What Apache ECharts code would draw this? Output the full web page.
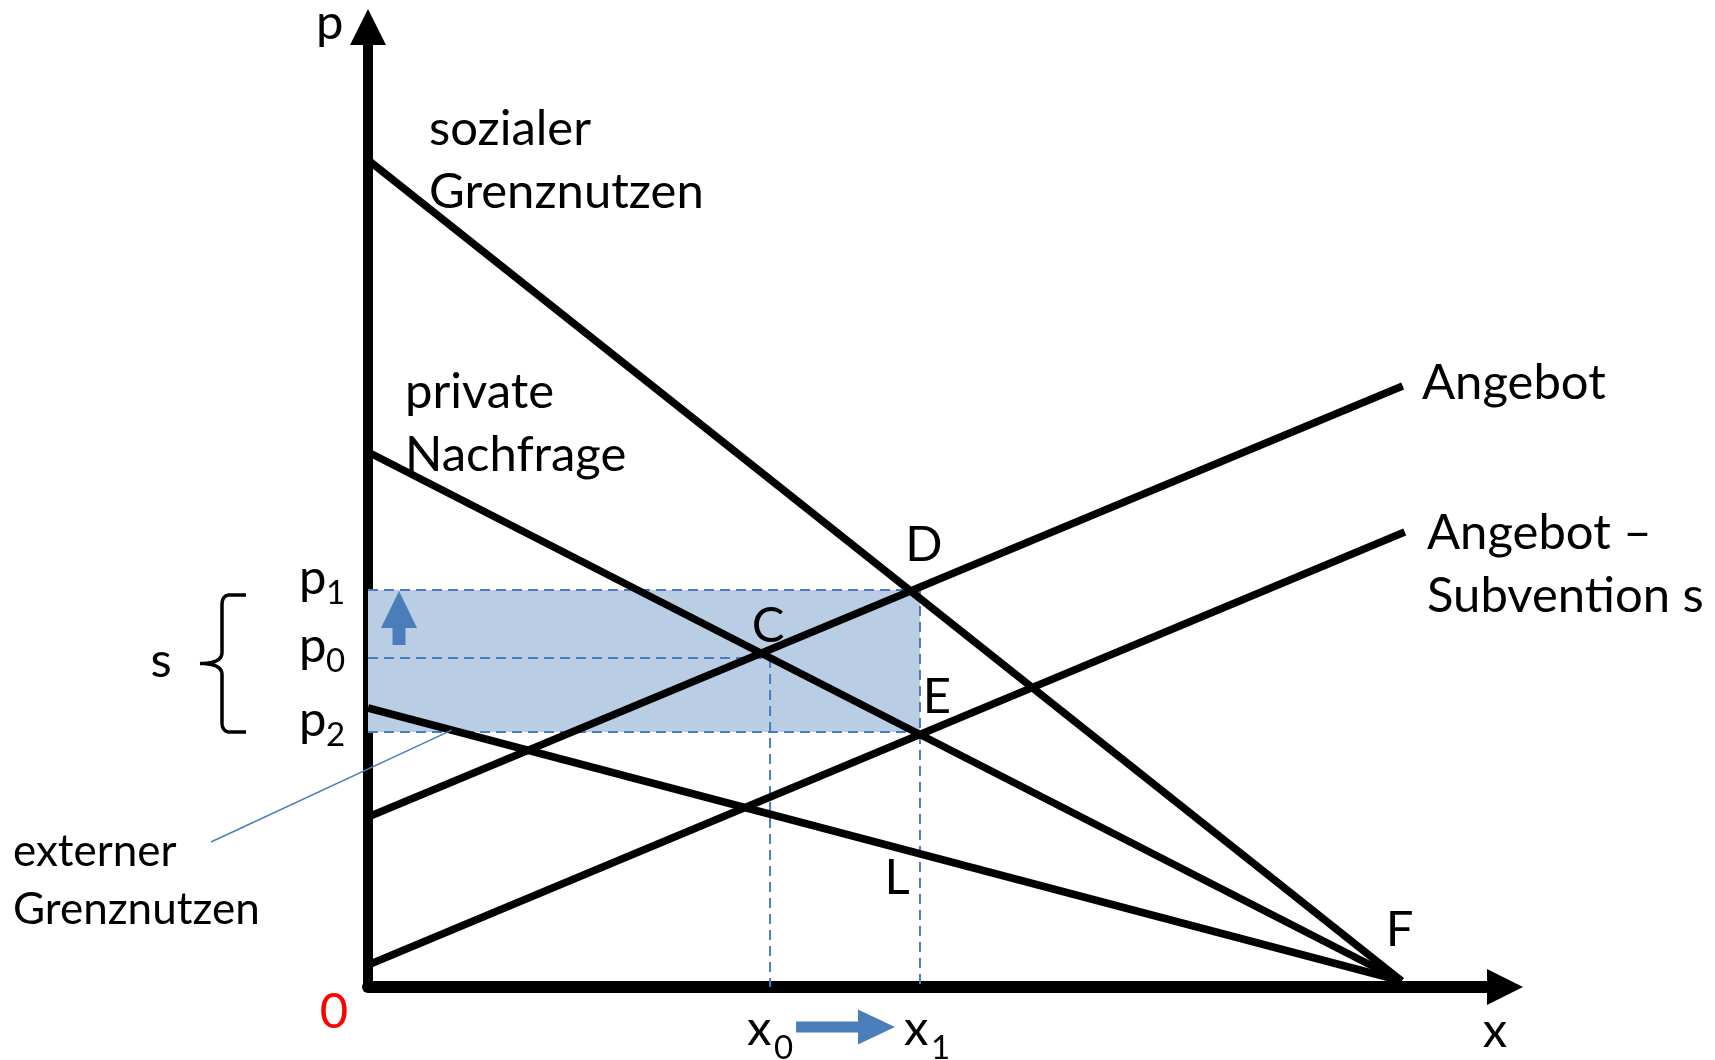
<!DOCTYPE html>
<html>
<head>
<meta charset="utf-8">
<title>Subvention bei externem Grenznutzen</title>
<script src="https://cdn.jsdelivr.net/npm/echarts@6/dist/echarts.min.js"></script>
<style>
  html, body { margin: 0; padding: 0; background: #fff; }
  #main { width: 1715px; height: 1060px; }
</style>
</head>
<body>
<div id="main"></div>
<script>
// Werte (Menge x: F = 100, Preis p frei skaliert)
var xMengen = [38.9, 53.4];            // x0, x1
var pPreise = [32.9, 39.7, 25.5];      // p0, p1, p2
var sozialerGN = [[0, 82.7], [100, 0.6]];
var privateNachfrage = [[0, 53.5], [100, 0.6]];
var externerGN = [[0, 27.9], [100, 0.6]];
var angebot = [[0, 17.0], [100.1, 60.1]];
var angebotSubv = [[0, 2.2], [100.3, 45.5]];

var x0 = xMengen[0], x1 = xMengen[1];
var p0 = pPreise[0], p1 = pPreise[1], p2 = pPreise[2];

var FONT = 'Lato, "Open Sans", sans-serif';
var BLUE = '#4a7ebb';

var chart = echarts.init(document.getElementById('main'));

function kurve(name, data) {
  return {
    name: name, type: 'line', data: data, symbol: 'none', z: 5, silent: true,
    lineStyle: { color: '#000', width: 7.5 }
  };
}
function gestrichelt(data) {
  return {
    type: 'line', data: data, symbol: 'none', z: 4, silent: true,
    lineStyle: { color: BLUE, width: 2, type: [10, 6] }
  };
}
function achse(width) {
  return {
    type: 'value', min: 0,
    axisLine: { show: true, onZero: false, symbol: ['none', 'triangle'], symbolSize: [36, 36],
      lineStyle: { color: '#000', width: width } },
    axisTick: { show: false }, axisLabel: { show: false }, splitLine: { show: false }
  };
}

var xAxis = achse(12); xAxis.max = 110;
var yAxis = achse(10); yAxis.max = 96;

chart.setOption({
  animation: false,
  backgroundColor: '#fff',
  grid: { left: 368, right: 210, top: 27, bottom: 73 },
  xAxis: xAxis,
  yAxis: yAxis,
  series: [
    {
      type: 'line', data: [], z: 1, silent: true,
      markArea: { silent: true, itemStyle: { color: '#b9cde5', opacity: 1 },
        data: [[{ coord: [0, p2] }, { coord: [x1, p1] }]] }
    },
    gestrichelt([[0, p1], [x1, p1]]),
    gestrichelt([[0, p0], [x0, p0]]),
    gestrichelt([[0, p2], [x1, p2]]),
    gestrichelt([[x0, p0], [x0, 0]]),
    gestrichelt([[x1, p1], [x1, 0]]),
    kurve('sozialer Grenznutzen', sozialerGN),
    kurve('private Nachfrage', privateNachfrage),
    kurve('externer Grenznutzen', externerGN),
    kurve('Angebot', angebot),
    kurve('Angebot - Subvention', angebotSubv)
  ]
});

function px(x, y) { return chart.convertToPixel({ gridIndex: 0 }, [x, y]); }
function aufLinie(line, x) {
  var a = line[0], b = line[1];
  return a[1] + (b[1] - a[1]) * (x - a[0]) / (b[0] - a[0]);
}
function txt(s, x, y, size, color, align) {
  return {
    type: 'text', x: x, y: y, silent: true, z: 20,
    style: { text: s, font: size + 'px ' + FONT, fill: color || '#000',
      align: align || 'left', verticalAlign: 'middle',
      textAlign: align || 'left', textVerticalAlign: 'middle' }
  };
}
// quadratische Bezierkurve als Punktliste
function quad(a, c, b) {
  var pts = [];
  for (var i = 0; i <= 10; i++) {
    var t = i / 10, u = 1 - t;
    pts.push([u * u * a[0] + 2 * u * t * c[0] + t * t * b[0], u * u * a[1] + 2 * u * t * c[1] + t * t * b[1]]);
  }
  return pts;
}

var O = px(0, 0);
var pD = px(x1, p1), pC = px(x0, p0), pE = px(x1, p2);
var pL = px(x1, aufLinie(externerGN, x1));
var pF = px(100, 0.6);
var yP1 = px(0, p1)[1], yP0 = px(0, p0)[1], yP2 = px(0, p2)[1];
var xX0 = px(x0, 0)[0], xX1 = px(x1, 0)[0];
var oben = px(0, 96), xEnd = px(110, 0);

var S = 49;
var g = [];
// Achsenbeschriftung
g.push(txt('p', oben[0] - 52, oben[1] - 4, S));
g.push(txt('x', xEnd[0] - 10, xEnd[1] + 44, S, '#000', 'center'));
g.push(txt('0', O[0] - 34, O[1] + 25, S, '#ff0000', 'center'));
// Kurvenbeschriftung
g.push(txt('sozialer', 429, 129, S));
g.push(txt('Grenznutzen', 429, 192, S));
g.push(txt('private', 405, 392, S));
g.push(txt('Nachfrage', 405, 455, S));
g.push(txt('Angebot', 1422, 383, S));
g.push(txt('Angebot \u2013', 1427, 533, S));
g.push(txt('Subvention s', 1427, 596, S));
g.push(txt('externer', 13, 852, 44));
g.push(txt('Grenznutzen', 13, 910, 44));
// Punkte
g.push(txt('D', pD[0] + 4, pD[1] - 45, S, '#000', 'center'));
g.push(txt('C', pC[0] - 2, pC[1] - 32, S, '#000', 'center'));
g.push(txt('E', pE[0] + 17, pE[1] - 35, S, '#000', 'center'));
g.push(txt('L', pL[0] - 23, pL[1] + 24, S, '#000', 'center'));
g.push(txt('F', pF[0] - 2, pF[1] - 51, S, '#000', 'center'));
// Preise mit Index
[[yP1, '1'], [yP0, '0'], [yP2, '2']].forEach(function (p) {
  g.push(txt('p', O[0] - 69, p[0] - 12, S));
  g.push(txt(p[1], O[0] - 42, p[0] + 3, 33));
});
// Mengen mit Index
[[xX0, '0', 0], [xX1, '1', 7]].forEach(function (q) {
  g.push(txt('x', q[0] - 23 + q[2], O[1] + 42, S));
  g.push(txt(q[1], q[0] + 4 + q[2], O[1] + 61, 33));
});
// Klammer s
var bTop = yP1 + 5, bBot = yP2, bMid = (bTop + bBot) / 2;
var klammer = [[246, bTop]]
  .concat(quad([230, bTop], [222, bTop], [222, bTop + 10]))
  .concat(quad([222, bMid - 11], [222, bMid], [200, bMid]))
  .concat(quad([222, bMid + 11], [222, bMid], [200, bMid]).reverse())
  .concat(quad([222, bBot - 10], [222, bBot], [230, bBot]))
  .concat([[246, bBot]]);
g.push({
  type: 'polyline', silent: true, z: 20,
  shape: { points: klammer },
  style: { fill: null, stroke: '#000', lineWidth: 3.5 }
});
g.push(txt('s', 161, bMid - 2, S, '#000', 'center'));
// Hinweislinie externer Grenznutzen
var hx = 8.1, hEnd = px(hx, aufLinie(externerGN, hx));
g.push({
  type: 'line', silent: true, z: 20,
  shape: { x1: 211, y1: 842, x2: hEnd[0], y2: hEnd[1] },
  style: { stroke: BLUE, lineWidth: 1.5 }
});
// Pfeil nach oben (Preis steigt)
var ax = O[0] + 31, at = yP1 + 1;
g.push({
  type: 'polygon', silent: true, z: 20,
  shape: { points: [[ax, at], [ax + 18, at + 37], [ax + 6.5, at + 37], [ax + 6.5, at + 54],
    [ax - 6.5, at + 54], [ax - 6.5, at + 37], [ax - 18, at + 37]] },
  style: { fill: BLUE }
});
// Pfeil nach rechts (Menge steigt)
var rs = xX0 + 26, re = xX1 - 25, ry = O[1] + 40;
g.push({
  type: 'polygon', silent: true, z: 20,
  shape: { points: [[rs, ry - 5.5], [re - 37, ry - 5.5], [re - 37, ry - 17.5], [re, ry],
    [re - 37, ry + 17.5], [re - 37, ry + 5.5], [rs, ry + 5.5]] },
  style: { fill: BLUE }
});

chart.setOption({ graphic: g });
</script>
</body>
</html>
